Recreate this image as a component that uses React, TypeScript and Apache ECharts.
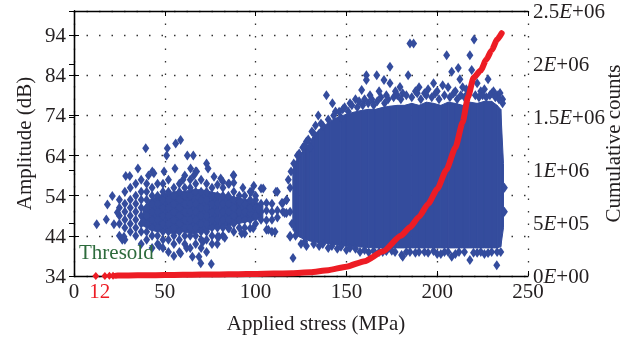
import React, { useEffect, useRef } from 'react';
import * as echarts from 'echarts';

const FONT = '"Liberation Serif", "Times New Roman", serif';
const BLUE = '#344c9d';
const RED = '#ed1c24';
const GREEN = '#2d6b3c';
const INK = '#231f20';

// x axis (Applied stress, MPa)
const xMin = 0;
const xMax = 250;
const xStep = 50;
const thresholdStress = [12];

// left axis (Amplitude, dB)
const ampMin = 34;
const ampMax = 100;
const ampStep = 10;

// right axis (Cumulative counts)
const cumMin = 0;
const cumMax = 2500000;
const cumStep = 500000;

// Solid core of the low-stress cloud: outline
const leftCoreX = [38, 42, 46, 50, 55, 60, 65, 70, 75, 80, 85, 90, 95, 100, 104];
const leftCoreHigh = [51, 53, 54, 54.5, 55, 55, 55.5, 55.5, 55, 54.5, 54, 53.5, 53, 52.5, 51.5];
const leftCoreLow = [46.5, 45.5, 45, 45, 44.5, 45, 44.5, 45, 45.5, 46, 46.5, 47, 47.5, 48, 48.5];

// Blue AE hits, low-stress cloud, read column by column: [stress, amplitudes...]
const leftColumns: number[][] = [
  [25, 44, 47, 49, 51, 53],
  [28, 43, 46, 48, 50, 52, 55],
  [31, 45, 47, 49, 51, 53, 56],
  [34, 44, 46, 48, 50, 52, 54, 57],
  [37, 42, 45, 47, 49, 51, 53, 55, 58],
  [40, 43, 45, 47, 49, 51, 53, 55, 57],
  [43, 41, 44, 46, 48, 50, 52, 54, 56],
  [46, 42, 44, 46, 48, 50, 52, 54, 57],
  [49, 41, 43, 45, 47, 49, 51, 53, 55, 57],
  [52, 40, 43, 45, 47, 49, 51, 53, 55, 58],
  [55, 42, 44, 46, 48, 50, 52, 54, 56],
  [58, 40, 43, 45, 47, 49, 51, 53, 55, 57],
  [61, 42, 44, 46, 48, 50, 52, 54, 56, 59],
  [64, 41, 44, 46, 48, 50, 52, 54, 56, 58],
  [67, 42, 44, 46, 48, 50, 52, 55, 57, 60],
  [70, 41, 43, 45, 47, 49, 51, 53, 55, 58],
  [73, 40, 43, 45, 47, 49, 51, 53, 55, 57],
  [76, 42, 44, 46, 48, 50, 52, 54, 56],
  [79, 43.8, 46, 48, 50, 52, 54, 56.7],
  [82, 44, 46, 48, 50, 52, 54, 56],
  [85, 45.9, 48, 50, 52, 54, 57],
  [88, 45, 47, 49, 51, 53, 55, 57.2, 59.1],
  [91, 46, 48, 50, 52.5, 54],
  [94, 44.6, 46, 48, 50, 52, 54],
  [97, 45.9, 48, 49.6, 51, 53, 55],
  [100, 47, 49, 51, 52.9, 54],
  [103, 48, 50, 52, 55.8],
  [106, 45.5, 47.9, 50.3, 52.2],
  [109, 45, 48, 50, 52],
  [112, 48.6, 50.3, 55],
  [115, 50, 52.2],
  [117, 49.7, 52.9],
  [119, 44, 50, 56],
];

// Blue AE hits, isolated points of the low-stress cloud: [stress, amplitude]
const leftSparse: number[][] = [
  [12.5, 46.9], [17.8, 48.1], [18.4, 51.8], [21.1, 53.9], [22, 46.9], [23.9, 49.8],
  [26.6, 43], [27.5, 43.8], [28.5, 58.9], [30.7, 58.9], [35.2, 60.8], [39.5, 65.8],
  [43.1, 60], [44, 59.6], [49.6, 60], [51.4, 65.8], [51, 64], [56, 67], [58.7, 67.9],
  [55.6, 60.8], [62.4, 64], [65.7, 64], [64.2, 60.8], [67.5, 60], [73, 62], [73.8, 60.8],
  [77.1, 58.7], [80.8, 58.3], [85.4, 57], [69.8, 37.2], [75.6, 37], [65.2, 38.8],
  [68.8, 38.8], [55, 39], [58.7, 39.6], [78.9, 42], [79.8, 43.8], [85.4, 45.9],
  [87.7, 59.1], [97.8, 55], [104.2, 55.8], [111.2, 55], [92.3, 44.6], [98.7, 45.9],
  [110.7, 45], [107, 45.5], [101.5, 50.7], [91.4, 52.5], [114.4, 52.2], [116, 49.7],
  [119, 43.8], [117.1, 52.9], [47, 41.5], [62, 41], [71, 42.5], [83, 43.5], [38, 47.5],
  [41, 59], [60, 58], [66, 59], [82, 57.5], [93, 56], [99, 56.5],
];

// Dense high-stress mass: outline
const coreX = [120.5, 122, 124, 126, 128, 130, 132, 135, 138, 141, 144, 147, 150, 154, 158, 162, 166, 170, 174, 178, 182, 186, 190, 194, 198, 202, 206, 210, 214, 218, 222, 226, 230, 233, 235, 236.5];
const coreHigh = [60.5, 62.5, 64, 65, 66, 67.5, 69, 70.5, 71.5, 72.5, 73.3, 73.8, 74.3, 74.8, 75.2, 75.5, 75.5, 76, 76.3, 76.5, 76.5, 77, 76.5, 77.3, 77, 76.5, 77.3, 77, 76.5, 77.3, 77, 77.5, 77.5, 76.5, 75.5, 62];
const coreLow = [45.5, 44.5, 43.8, 43.3, 43, 42.7, 42.5, 42.3, 42.2, 42, 41.8, 41.6, 41.4, 41.3, 41.2, 41.1, 41, 41, 41, 41, 41, 41, 41, 41, 41, 41, 41, 41, 41, 41, 41, 41, 41, 41, 41.3, 46];

// Blue hits on the fringe of the dense mass: [stress, amplitude]
const coreFringe: number[][] = [
  [121, 62], [119.5, 60], [118, 58], [120, 47], [120.6, 38.5],
  [123, 64], [126, 66], [128, 67.5], [131, 70], [133, 71.5], [134.5, 74], [136, 72],
  [139, 79], [142.3, 77], [144, 75], [146, 74.9], [149, 76], [152, 77], [155, 78],
  [158.4, 80.3], [160, 78], [161, 82.8], [161, 84], [163, 79], [166.7, 84], [168, 80],
  [170.7, 82.8], [172, 79], [174, 82], [174, 86.1], [177, 80], [179.5, 81.1], [181, 79.5],
  [184, 84], [185, 91.9], [187, 91.9], [188, 80], [190, 81], [193, 79.5], [195, 80.5],
  [198, 82], [200, 80], [203, 81.5], [205.2, 89], [206, 81], [208, 84.9], [210, 80],
  [211.6, 85.8], [212.5, 83], [214, 81], [216, 80.5], [218, 89], [219, 85.3], [220.3, 92.9],
  [222, 82], [224, 80], [226, 80.5], [228, 83], [230, 79.5], [231, 80], [233, 79],
  [234.6, 79.6], [236, 78],
  [124, 64.5], [127, 66.5], [129, 68], [130, 66], [132, 69.5], [137, 71.5], [140, 73],
  [143, 74], [147, 73.5], [148, 75.5], [151, 75], [153, 76.5], [156, 76], [157, 77.5],
  [159, 76.5], [162, 77], [164, 78], [165, 76.5], [167, 77.5], [169, 78.5], [171, 77],
  [173, 78], [176, 78.5], [178, 79], [180, 78], [183, 79], [186, 78.5], [189, 79.5],
  [191, 78], [194, 79], [197, 78.5], [199, 79.5], [201, 78], [204, 79], [207, 78.5],
  [209, 79.5], [211, 78], [213, 79], [215, 78.5], [217, 79.5], [221, 79], [223, 78.5],
  [225, 79], [227, 78.5], [229, 79], [232, 78.5], [234, 78], [236, 77],
  [122, 44], [125, 42], [128, 41.5], [135, 41.5], [140, 41], [145, 40.8], [150, 40.5],
  [157.5, 40], [162.3, 39.9], [168, 40], [172, 40.2], [176.8, 40], [180.4, 39.2],
  [181, 38.8], [185, 40], [190, 40], [195, 39.8], [200, 39.5], [204, 40], [208, 38.8],
  [212, 40], [218, 38], [222, 39.8], [226, 39.5], [230, 40], [232.8, 36.7], [235, 40],
  [127, 42.5], [132, 42], [137, 42], [142, 41.5], [147, 41.3], [152, 41], [155, 40.8],
  [160, 40.5], [165, 40.3], [170, 40], [175, 40.3], [183, 40], [188, 39.8], [193, 40],
  [198, 40.2], [202, 39.5], [206, 40], [210, 39.5], [215, 40], [220, 39.8], [224, 40],
  [228, 39.7], [233, 40], [237, 50], [237, 56],
];

// Red cumulative counts
const cumStartX = [12, 17, 19.5, 21.5];
const cumStartY = [0, 1000, 2000, 3000];
const cumX = [23, 25, 30, 40, 50, 60, 70, 80, 90, 100, 110, 120, 130, 140, 150, 160, 170, 180, 185, 190, 195, 200, 205, 210, 214, 217, 220, 224, 227, 230, 233, 235.5];
const cumY = [3500, 4000, 5000, 7000, 9000, 11000, 13000, 15000, 17000, 20000, 23000, 26000, 35000, 55000, 88000, 140000, 230000, 380000, 460000, 560000, 680000, 820000, 1000000, 1210000, 1450000, 1690000, 1870000, 1940000, 2040000, 2130000, 2230000, 2290000];

const gridDots = { color: '#333', width: 1.3, type: [1.5, 11] as number[] };

function bandSeries(name: string, xs: number[], lows: number[], highs: number[]) {
  return {
    type: 'custom', name, xAxisIndex: 0, yAxisIndex: 0,
    data: xs.map((x, i) => [x, lows[i], highs[i]]),
    encode: { x: 0, y: [1, 2] }, clip: true, z: 2,
    renderItem: (params: any, api: any) => {
      const i = params.dataIndex;
      if (i >= xs.length - 1) return { type: 'group', children: [] };
      const a = api.coord([xs[i], lows[i]]);
      const b = api.coord([xs[i], highs[i]]);
      const c = api.coord([xs[i + 1], highs[i + 1]]);
      const d = api.coord([xs[i + 1], lows[i + 1]]);
      return {
        type: 'polygon',
        shape: { points: [a, b, c, d] },
        style: { fill: BLUE, stroke: BLUE, lineWidth: 1 },
      };
    },
  };
}

export default function App() {
  const ref = useRef<HTMLDivElement>(null);

  useEffect(() => {
    if (!ref.current) return;
    const chart = echarts.init(ref.current, null, { renderer: 'svg' });

    const blueData: number[][] = [];
    leftColumns.forEach((col) => {
      for (let k = 1; k < col.length; k++) blueData.push([col[0], col[k]]);
    });
    leftSparse.forEach((p) => blueData.push(p));
    coreFringe.forEach((p) => blueData.push(p));

    const sci = (v: number) => {
      if (v === 0) return '0{i|E}+00';
      const e = Math.floor(Math.log10(v) + 1e-9);
      const m = Math.round((v / Math.pow(10, e)) * 100) / 100;
      return `${m}{i|E}+${String(e).padStart(2, '0')}`;
    };

    const labelBase = { fontFamily: FONT, fontSize: 21, color: INK };

    chart.setOption({
      animation: false,
      grid: { left: 74, right: 106, top: 11, bottom: 63, containLabel: false, outerBoundsMode: 'none' },
      xAxis: [
        {
          type: 'value', min: xMin, max: xMax, interval: xStep, position: 'bottom',
          name: 'Applied stress (MPa)', nameLocation: 'middle', nameGap: 36, nameMoveOverlap: false,
          nameTextStyle: { ...labelBase, padding: [0, 0, 0, 30] },
          axisLine: { show: true, lineStyle: { color: '#000', width: 1.3 } },
          axisTick: { show: true, inside: true, length: 5, lineStyle: { color: '#000' } },
          axisLabel: { ...labelBase, margin: 4 },
          splitLine: { show: true, lineStyle: gridDots },
        },
        {
          type: 'value', min: xMin, max: xMax, position: 'bottom',
          axisLine: { show: false }, axisTick: { show: false }, splitLine: { show: false },
          axisLabel: { ...labelBase, color: RED, margin: 4, padding: [0, 0, 0, 8], customValues: thresholdStress },
        },
        {
          type: 'value', min: xMin, max: xMax, interval: xStep, position: 'top',
          axisLine: { show: true, lineStyle: { color: '#000', width: 1.3 } },
          axisTick: { show: true, inside: true, length: 5, lineStyle: { color: '#000' } },
          axisLabel: { show: false }, splitLine: { show: false },
        },
      ],
      yAxis: [
        {
          type: 'value', min: ampMin, max: ampMax, interval: ampStep, position: 'left',
          name: 'Amplitude (dB)', nameLocation: 'middle', nameGap: 40, nameMoveOverlap: false,
          nameTextStyle: { ...labelBase },
          axisLine: { show: true, lineStyle: { color: '#000', width: 1.3 } },
          axisTick: { show: true, inside: true, length: 5, lineStyle: { color: '#000' } },
          axisLabel: { ...labelBase, margin: 8, formatter: (v: number) => (v === ampMax ? '' : String(v)) },
          splitLine: { show: true, lineStyle: gridDots },
        },
        {
          type: 'value', min: cumMin, max: cumMax, interval: cumStep, position: 'right',
          name: 'Cumulative counts', nameLocation: 'middle', nameGap: 74, nameMoveOverlap: false,
          nameTextStyle: { ...labelBase },
          axisLine: { show: true, lineStyle: { color: '#000', width: 1.3 } },
          axisTick: { show: true, inside: true, length: 5, lineStyle: { color: '#000' } },
          axisLabel: {
            ...labelBase, margin: 5, formatter: sci,
            rich: { i: { ...labelBase, fontStyle: 'italic' } },
          },
          splitLine: { show: false },
        },
        {
          type: 'value', min: ampMin, max: ampMax, interval: ampStep, position: 'right',
          axisLine: { show: false },
          axisTick: { show: true, inside: true, length: 5, lineStyle: { color: '#000' } },
          axisLabel: { show: false }, splitLine: { show: false },
        },
      ],
      series: [
        bandSeries('leftCore', leftCoreX, leftCoreLow, leftCoreHigh),
        bandSeries('dense', coreX, coreLow, coreHigh),
        {
          type: 'scatter', name: 'hits', xAxisIndex: 0, yAxisIndex: 0,
          data: blueData, symbol: 'diamond', symbolSize: [7, 10],
          itemStyle: { color: BLUE, opacity: 1 }, z: 3,
        },
        {
          type: 'scatter', name: 'cumStart', xAxisIndex: 0, yAxisIndex: 1,
          data: cumStartX.map((x, i) => [x, cumStartY[i]]),
          symbol: 'diamond', symbolSize: [7, 8], itemStyle: { color: RED, opacity: 1 }, z: 5,
        },
        {
          type: 'line', name: 'cum', xAxisIndex: 0, yAxisIndex: 1,
          data: cumX.map((x, i) => [x, cumY[i]]),
          symbol: 'none', smooth: 0.2, smoothMonotone: 'x',
          lineStyle: { color: RED, width: 6, cap: 'round', join: 'round' }, z: 5,
        },
      ],
      graphic: [
        {
          type: 'text', left: 79, top: 241, z: 10,
          style: { text: 'Thresold', fontFamily: FONT, fontSize: 21, fill: GREEN },
        },
      ],
    });

    return () => chart.dispose();
  }, []);

  return <div ref={ref} style={{ position: 'fixed', left: 0, top: 0, width: 634, height: 339 }} />;
}
